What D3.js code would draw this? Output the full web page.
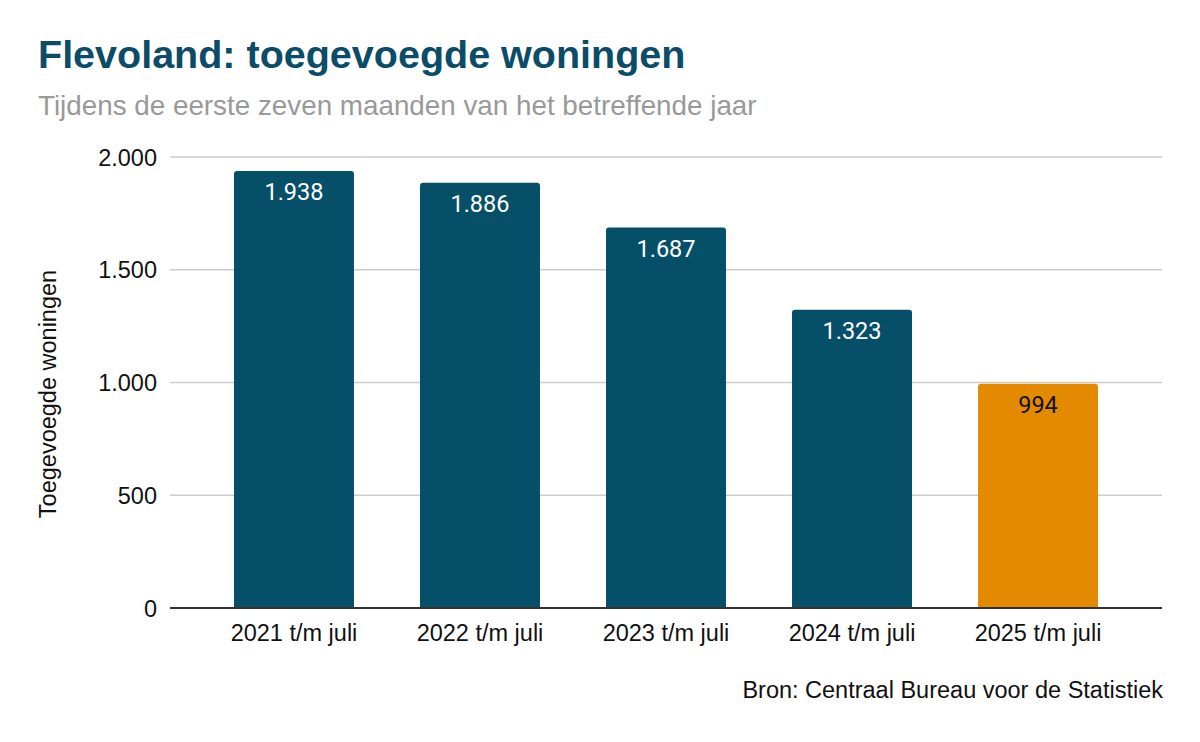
<!DOCTYPE html>
<html><head><meta charset="utf-8">
<script src="https://cdn.jsdelivr.net/npm/d3@7"></script>
<style>body{margin:0;background:#fff;font-family:"Liberation Sans",Arial,sans-serif}</style>
</head><body><svg id="c" width="1200" height="742"></svg>
<script>
const categories = ["2021 t/m juli","2022 t/m juli","2023 t/m juli","2024 t/m juli","2025 t/m juli"];
const values = [1938,1886,1687,1323,994];
const valueLabels = ["1.938","1.886","1.687","1.323","994"];
const yTicks = [0,500,1000,1500,2000];
const yTickLabels = ["0","500","1.000","1.500","2.000"];

const svg = d3.select("#c");
const LS = "'Liberation Sans',Arial,sans-serif";
const L = 170, R = 1162, T = 157, B = 608;
const x = d3.scaleBand().domain(categories).range([L,R]).paddingInner(0.355).paddingOuter(0.344);
const y = d3.scaleLinear().domain([0,2000]).range([B,T]);

svg.append("text").attr("x",38).attr("y",68).attr("font-family",LS).attr("font-size",39.5).attr("font-weight","bold")
  .attr("fill","#0b4d68").text("Flevoland: toegevoegde woningen");
svg.append("text").attr("x",38).attr("y",115).attr("font-family",LS).attr("font-size",27.8)
  .attr("fill","#999999").text("Tijdens de eerste zeven maanden van het betreffende jaar");

svg.selectAll("line.grid").data(yTicks.filter(d=>d>0)).join("line").attr("class","grid")
  .attr("x1",L).attr("x2",R).attr("y1",d=>y(d)).attr("y2",d=>y(d))
  .attr("stroke","#cccccc").attr("stroke-width",1.5);

svg.selectAll("text.yt").data(yTicks).join("text").attr("class","yt")
  .attr("x",157).attr("y",d=>y(d)+8.5).attr("text-anchor","end").attr("font-family",LS).attr("font-size",23.5)
  .attr("fill","#111").text((d,i)=>yTickLabels[i]);

svg.append("text").attr("transform","translate(56,394) rotate(-90)").attr("text-anchor","middle")
  .attr("font-family",LS).attr("font-size",23.5).attr("fill","#111").text("Toegevoegde woningen");

const r = 3;
svg.selectAll("path.bar").data(values).join("path").attr("class","bar")
  .attr("fill",(d,i)=> i===4 ? "#e38a00" : "#054f69")
  .attr("d",(d,i)=>{
    const x0 = x(categories[i]), w = x.bandwidth(), y0 = y(d);
    return `M${x0},${B}V${y0+r}Q${x0},${y0} ${x0+r},${y0}H${x0+w-r}Q${x0+w},${y0} ${x0+w},${y0+r}V${B}Z`;
  });

svg.selectAll("text.vl").data(values).join("text").attr("class","vl")
  .attr("x",(d,i)=>x(categories[i])+x.bandwidth()/2).attr("y",d=>y(d)+29.5)
  .attr("text-anchor","middle").attr("font-family","Roboto,sans-serif").attr("font-size",23.5)
  .attr("fill",(d,i)=> i===4 ? "#111" : "#fff").text((d,i)=>valueLabels[i]);

svg.append("line").attr("x1",L).attr("x2",R).attr("y1",B).attr("y2",B)
  .attr("stroke","#333").attr("stroke-width",2);

svg.selectAll("text.xt").data(categories).join("text").attr("class","xt")
  .attr("x",d=>x(d)+x.bandwidth()/2).attr("y",641).attr("text-anchor","middle")
  .attr("font-family",LS).attr("font-size",23.5).attr("fill","#111").text(d=>d);

svg.append("text").attr("x",1163).attr("y",698).attr("text-anchor","end")
  .attr("font-family",LS).attr("font-size",23.5).attr("fill","#111").text("Bron: Centraal Bureau voor de Statistiek");
</script></body></html>
